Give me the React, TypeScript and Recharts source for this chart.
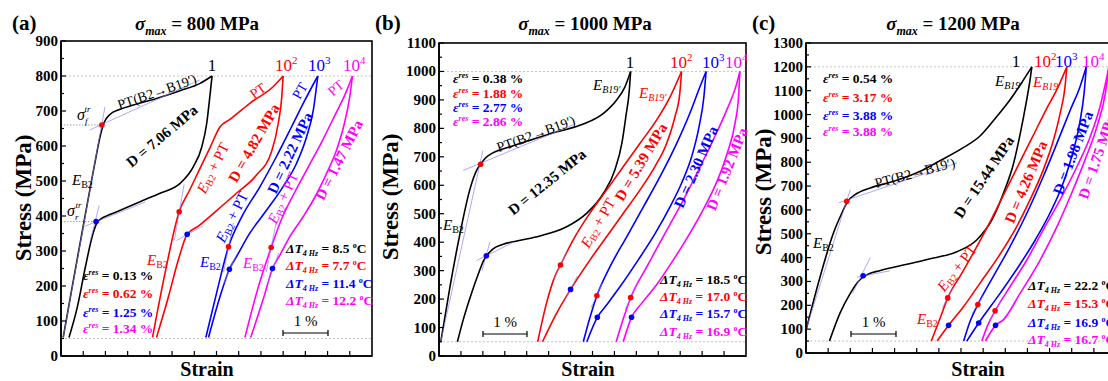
import { ComposedChart, Line, Scatter, XAxis, YAxis, ReferenceLine } from "recharts"

type Pt = [number, number]

const FONT = "'Times New Roman', 'Liberation Serif', serif"
const BLACK = "#000000"
const RED = "#ff0000"
const BLUE = "#0000ff"
const MAGENTA = "#ff00ff"
const TANGENT = "#8c7cf2"
const GUIDE = "#c4c4c4"
const colors = [BLACK, RED, BLUE, MAGENTA]

// cycle labels (base + exponent)
const cycleBase = ["1", "10", "10", "10"]
const cycleExp = ["", "2", "3", "4"]

// ---------- (a) sigma_max = 800 MPa ----------
const aBlackLoad: Pt[] = [[0.05, 53], [0.24, 189], [0.47, 350], [0.67, 489], [0.79, 570], [0.88, 627], [0.97, 667], [1.1, 690], [1.33, 705], [1.63, 717], [2.15, 736], [2.68, 758], [3.13, 779], [3.4, 800]]
const aBlackUnload: Pt[] = [[3.4, 800], [3.35, 741], [3.28, 665], [3.17, 598], [2.98, 541], [2.68, 493], [2.23, 465], [1.78, 441], [1.4, 420], [1.1, 404], [0.9, 392], [0.8, 378], [0.71, 345], [0.55, 255], [0.37, 141], [0.18, 53]]
const aRedLoad: Pt[] = [[2.06, 53], [2.34, 236], [2.66, 412], [2.9, 475], [3.14, 539], [3.36, 597], [3.58, 655], [3.8, 676], [4.25, 722], [4.78, 770], [5.0, 800]]
const aRedUnload: Pt[] = [[5.0, 800], [4.97, 741], [4.89, 665], [4.74, 584], [4.4, 517], [3.95, 465], [3.47, 412], [3.09, 371], [2.84, 348], [2.64, 274], [2.42, 170], [2.15, 53]]
const aBlueLoad: Pt[] = [[3.26, 53], [3.5, 179], [3.77, 312], [4.07, 398], [4.48, 484], [4.85, 570], [5.19, 655], [5.49, 731], [5.78, 800]]
const aBlueUnload: Pt[] = [[5.78, 800], [5.68, 703], [5.53, 627], [5.3, 550], [5.0, 484], [4.63, 417], [4.25, 351], [3.95, 284], [3.79, 248], [3.58, 170], [3.32, 53]]
const aMagLoad: Pt[] = [[4.14, 53], [4.4, 179], [4.73, 310], [4.97, 393], [5.27, 470], [5.57, 541], [5.87, 612], [6.17, 689], [6.39, 746], [6.56, 800]]
const aMagUnload: Pt[] = [[6.56, 800], [6.5, 741], [6.37, 660], [6.19, 584], [5.96, 517], [5.72, 455], [5.45, 398], [5.15, 341], [4.93, 289], [4.76, 250], [4.57, 170], [4.27, 53]]
const aRedDots: Pt[] = [[0.92, 660], [2.66, 412], [3.77, 312], [4.73, 310]]
const aBlueDots: Pt[] = [[0.79, 384], [2.84, 348], [3.79, 248], [4.76, 250]]
const aTangents: Pt[][] = [
  [[0.05, 53], [0.99, 712]], [[0.65, 646], [3.13, 789]], [[0.52, 370], [1.9, 440]], [[0.66, 330], [0.86, 430]],
  [[2.55, 330], [2.77, 490]], [[2.6, 330], [3.2, 372]], [[3.66, 240], [3.88, 380]], [[3.65, 205], [3.95, 290]],
  [[4.62, 240], [4.84, 380]], [[4.65, 205], [4.9, 295]],
]
const aGuides: Pt[][] = [[[0, 660], [0.92, 660]], [[0, 384], [0.79, 384]]]
const aEpsRes = ["0.13", "0.62", "1.25", "1.34"]
const aDeltaT = ["8.5", "7.7", "11.4", "12.2"]
const aDamping = ["7.06", "4.82", "2.22", "1.47"]

// ---------- (b) sigma_max = 1000 MPa ----------
const bBlackLoad: Pt[] = [[0.04, 50], [0.25, 243], [0.48, 431], [0.7, 583], [0.86, 653], [0.95, 674], [1.05, 694], [1.23, 714], [1.61, 735], [2.07, 758], [2.65, 786], [3.29, 815], [3.75, 853], [4.05, 900], [4.24, 946], [4.37, 1000]]
const bBlackUnload: Pt[] = [[4.37, 1000], [4.34, 935], [4.26, 841], [4.17, 748], [4.01, 654], [3.75, 572], [3.37, 502], [2.91, 454], [2.3, 422], [1.8, 405], [1.45, 392], [1.22, 375], [1.1, 355], [1.0, 330], [0.93, 302], [0.74, 220], [0.55, 126], [0.42, 50]]
const bRedLoad: Pt[] = [[2.25, 50], [2.45, 185], [2.64, 279], [2.77, 320], [3.06, 408], [3.44, 502], [3.82, 583], [4.2, 665], [4.58, 747], [4.96, 829], [5.27, 911], [5.53, 1000]]
const bRedUnload: Pt[] = [[5.53, 1000], [5.49, 922], [5.38, 841], [5.19, 747], [4.92, 665], [4.58, 583], [4.2, 501], [3.82, 419], [3.44, 337], [3.0, 234], [2.68, 150], [2.36, 50]]
const bBlueLoad: Pt[] = [[3.29, 50], [3.45, 140], [3.6, 212], [3.9, 314], [4.28, 419], [4.66, 524], [5.04, 630], [5.42, 747], [5.72, 853], [5.95, 946], [6.09, 1000]]
const bBlueUnload: Pt[] = [[6.09, 1000], [6.04, 911], [5.93, 806], [5.76, 700], [5.53, 607], [5.27, 525], [4.93, 431], [4.54, 337], [4.13, 244], [3.82, 179], [3.61, 136], [3.37, 50]]
const bMagLoad: Pt[] = [[4.04, 50], [4.2, 130], [4.37, 205], [4.74, 314], [5.11, 419], [5.49, 525], [5.88, 642], [6.25, 759], [6.56, 864], [6.79, 958], [6.86, 1000]]
const bMagUnload: Pt[] = [[6.86, 1000], [6.83, 911], [6.75, 818], [6.57, 712], [6.35, 618], [6.06, 525], [5.72, 431], [5.34, 337], [4.93, 244], [4.62, 185], [4.39, 136], [4.2, 50]]
const bRedDots: Pt[] = [[0.95, 674], [2.77, 320], [3.6, 212], [4.37, 205]]
const bBlueDots: Pt[] = [[1.08, 352], [3.0, 234], [3.61, 136], [4.39, 136]]
const bTangents: Pt[][] = [
  [[0.04, 50], [1.0, 722]], [[0.55, 652], [3.1, 815]], [[0.85, 335], [1.7, 400]], [[0.98, 300], [1.16, 400]],
  [[2.62, 270], [2.92, 370]], [[2.85, 190], [3.15, 280]], [[3.47, 170], [3.72, 255]], [[4.25, 165], [4.5, 245]],
]
const bEpsRes = ["0.38", "1.88", "2.77", "2.86"]
const bDeltaT = ["18.5", "17.0", "15.7", "16.9"]
const bDamping = ["12.35", "5.39", "2.30", "1.92"]

// ---------- (c) sigma_max = 1200 MPa ----------
const cBlackLoad: Pt[] = [[0.0, 95], [0.32, 321], [0.62, 503], [0.81, 587], [0.94, 636], [1.11, 664], [1.45, 692], [1.98, 720], [2.58, 762], [2.96, 800], [3.56, 862], [3.93, 910], [4.3, 990], [4.6, 1060], [4.84, 1125], [5.1, 1200]]
const cBlackUnload: Pt[] = [[5.1, 1200], [5.06, 1146], [4.97, 1048], [4.84, 922], [4.69, 797], [4.46, 671], [4.2, 559], [3.86, 475], [3.41, 425], [2.88, 398], [2.28, 372], [1.68, 346], [1.4, 330], [1.18, 300], [1.0, 250], [0.77, 168], [0.53, 50]]
const cRedLoad: Pt[] = [[2.83, 50], [3.03, 147], [3.2, 231], [3.52, 335], [3.86, 447], [4.2, 566], [4.52, 685], [4.82, 797], [5.12, 908], [5.42, 1020], [5.68, 1111], [5.89, 1200]]
const cRedUnload: Pt[] = [[5.89, 1200], [5.85, 1118], [5.74, 1006], [5.59, 894], [5.36, 769], [5.06, 643], [4.72, 517], [4.35, 405], [3.93, 293], [3.56, 195], [3.22, 116], [2.96, 50]]
const cBlueLoad: Pt[] = [[3.56, 50], [3.7, 130], [3.88, 203], [4.23, 321], [4.61, 447], [4.99, 587], [5.36, 741], [5.67, 881], [5.97, 1020], [6.19, 1118], [6.33, 1200]]
const cBlueUnload: Pt[] = [[6.33, 1200], [6.28, 1090], [6.18, 964], [6.0, 824], [5.78, 699], [5.51, 587], [5.18, 475], [4.8, 363], [4.39, 252], [3.9, 126], [3.63, 50]]
const cMagLoad: Pt[] = [[3.97, 50], [4.1, 115], [4.27, 177], [4.61, 279], [4.99, 391], [5.36, 517], [5.74, 643], [6.12, 782], [6.42, 908], [6.64, 1034], [6.78, 1146], [6.84, 1200]]
const cMagUnload: Pt[] = [[6.84, 1200], [6.76, 1090], [6.57, 950], [6.3, 810], [6.0, 671], [5.67, 531], [5.29, 391], [4.84, 252], [4.46, 140], [4.28, 116], [4.05, 50]]
const cRedDots: Pt[] = [[0.92, 636], [3.2, 231], [3.88, 203], [4.27, 177]]
const cBlueDots: Pt[] = [[1.29, 324], [3.22, 116], [3.9, 126], [4.28, 116]]
const cTangents: Pt[][] = [
  [[0.0, 98], [1.0, 685]], [[0.74, 630], [3.41, 797]], [[1.05, 250], [1.45, 400]], [[1.15, 318], [1.9, 345]],
  [[3.08, 190], [3.33, 275]], [[3.75, 165], [4.0, 240]], [[4.15, 140], [4.4, 215]],
]
const cEpsRes = ["0.54", "3.17", "3.88", "3.88"]
const cDeltaT = ["22.2", "15.3", "16.9", "16.7"]
const cDamping = ["15.44", "4.26", "1.98", "1.75"]

const xTicks = Array.from({ length: 15 }, (_, i) => i * 0.5)
const rows = (pts: Pt[]) => pts.map(([x, y]) => ({ x, y }))

const Y_W = 45
const M_TOP = 12
const M_RIGHT = 6
const X_H = 20

function XTick(props: any) {
  const { x, y, payload } = props
  if (payload.value <= 0 || payload.value >= 7) return <g />
  return <line x1={x} x2={x} y1={y} y2={y - 5} stroke={BLACK} strokeWidth={1.2} />
}

function YTick(props: any) {
  const { x, y, payload } = props
  const major = payload.value % 100 === 0
  return (
    <g>
      <line x1={x} x2={x + (major ? 5 : 3)} y1={y} y2={y} stroke={BLACK} strokeWidth={1.2} />
      {major && (
        <text x={x - 3} y={y} dy={5} textAnchor="end" fontFamily={FONT} fontWeight="bold" fontSize={15} fill={BLACK}>
          {payload.value}
        </text>
      )}
    </g>
  )
}

const dotShape = (fill: string) => (p: any) => <circle cx={p.cx} cy={p.cy} r={2.8} fill={fill} />

interface Geo { left: number; top: number; w: number; h: number; yMax: number; peak: number }

interface PanelProps {
  geo: Geo
  loops: Pt[][]
  redDots: Pt[]
  blueDots: Pt[]
  tangents: Pt[][]
  guides: Pt[][]
}

function Panel({ geo, loops, redDots, blueDots, tangents, guides }: PanelProps) {
  const yTicks = Array.from({ length: geo.yMax / 50 + 1 }, (_, i) => i * 50)
  return (
    <div style={{ position: "absolute", left: geo.left - Y_W, top: geo.top - M_TOP }}>
      <ComposedChart
        width={Y_W + geo.w + M_RIGHT}
        height={M_TOP + geo.h + X_H}
        margin={{ top: M_TOP, right: M_RIGHT, bottom: 0, left: 0 }}
      >
        <XAxis type="number" dataKey="x" domain={[0, 7]} ticks={xTicks} interval={0} height={X_H}
          tickSize={0} tickMargin={0} tickLine={false} tick={XTick} allowDataOverflow
          axisLine={{ stroke: BLACK, strokeWidth: 1.6 }} />
        <YAxis type="number" dataKey="y" domain={[0, geo.yMax]} ticks={yTicks} interval={0} width={Y_W}
          tickSize={0} tickMargin={0} tickLine={false} tick={YTick} allowDataOverflow
          axisLine={{ stroke: BLACK, strokeWidth: 1.6 }} />
        <ReferenceLine y={geo.peak} stroke={GUIDE} strokeDasharray="2 2" strokeWidth={1} />
        <ReferenceLine y={50} stroke={GUIDE} strokeDasharray="2 2" strokeWidth={1} />
        {guides.map((g, i) => (
          <ReferenceLine key={`g${i}`} segment={[{ x: g[0][0], y: g[0][1] }, { x: g[1][0], y: g[1][1] }]}
            stroke="#888" strokeDasharray="1.5 1.5" strokeWidth={0.8} />
        ))}
        {loops.map((pts, i) => (
          <Line key={`l${i}`} data={rows(pts)} dataKey="y" type="monotone" stroke={colors[Math.floor(i / 2)]}
            strokeWidth={1.6} dot={false} isAnimationActive={false} />
        ))}
        {tangents.map((t, i) => (
          <Line key={`t${i}`} data={rows(t)} dataKey="y" type="linear" stroke={TANGENT} strokeWidth={0.8}
            strokeOpacity={0.85} dot={false} isAnimationActive={false} />
        ))}
        <Scatter data={rows(redDots)} shape={dotShape(RED)} isAnimationActive={false} />
        <Scatter data={rows(blueDots)} shape={dotShape(BLUE)} isAnimationActive={false} />
      </ComposedChart>
    </div>
  )
}

const geoA: Geo = { left: 61, top: 41, w: 311, h: 315, yMax: 900, peak: 800 }
const geoB: Geo = { left: 439, top: 43, w: 307, h: 313, yMax: 1100, peak: 1000 }
const geoC: Geo = { left: 806, top: 43, w: 310, h: 310, yMax: 1300, peak: 1200 }

function Rot({ x, y, a, color = BLACK, bold = false, size = 14, children }: any) {
  return (
    <text x={x} y={y} transform={`rotate(${a} ${x} ${y})`} textAnchor="middle" dominantBaseline="central"
      fill={color} fontSize={size} fontWeight={bold ? "bold" : "normal"} fontFamily={FONT}>
      {children}
    </text>
  )
}

function ESub({ x, y, color = BLACK, sub = "B2", italicSub = false }: any) {
  return (
    <text x={x} y={y} fill={color} fontSize={15} fontFamily={FONT}>
      <tspan fontStyle="italic">E</tspan>
      <tspan fontSize={10} dy={3} fontStyle={italicSub ? "italic" : "normal"}>{sub}</tspan>
    </text>
  )
}

const EPlusPT = () => (
  <>
    <tspan fontStyle="italic">E</tspan>
    <tspan fontSize={10} dy={3}>B2</tspan>
    <tspan dy={-3}> + PT</tspan>
  </>
)

function Title({ x, label, value }: any) {
  return (
    <>
      <text x={x[0]} y={30} fontSize={21} fontWeight="bold" fontFamily={FONT}>{label}</text>
      <text x={x[1]} y={30} textAnchor="middle" fontSize={19} fontWeight="bold" fontFamily={FONT}>
        <tspan fontStyle="italic">σ</tspan>
        <tspan fontSize={12} dy={5} fontStyle="italic">max</tspan>
        <tspan dy={-5}>{` = ${value} MPa`}</tspan>
      </text>
    </>
  )
}

function AxisTitles({ yx, yy, xx }: any) {
  return (
    <>
      <text x={yx} y={yy} transform={`rotate(-90 ${yx} ${yy})`} textAnchor="middle" dominantBaseline="central"
        fontSize={23} fontWeight="bold" fontFamily={FONT}>Stress (MPa)</text>
      <text x={xx} y={376} textAnchor="middle" fontSize={20} fontWeight="bold" fontFamily={FONT}>Strain</text>
    </>
  )
}

function Cycles({ xs, y }: any) {
  return (
    <>
      {xs.map((x: number, i: number) => (
        <text key={i} x={x} y={y} fill={colors[i]} fontSize={17} fontFamily={FONT} textAnchor={i === 0 ? "middle" : "start"}>
          {cycleBase[i]}
          {cycleExp[i] && <tspan fontSize={11} dy={-7}>{cycleExp[i]}</tspan>}
        </text>
      ))}
    </>
  )
}

function EpsList({ x, ys, values }: any) {
  return (
    <>
      {values.map((v: string, i: number) => (
        <text key={i} x={x} y={ys[i]} fill={colors[i]} fontSize={13.5} fontWeight="bold" fontFamily={FONT}>
          <tspan fontStyle="italic">ε</tspan>
          <tspan fontSize={8} dy={-5} fontStyle="italic">res</tspan>
          <tspan dy={5}>{` = ${v} %`}</tspan>
        </text>
      ))}
    </>
  )
}

function DeltaList({ x, ys, values }: any) {
  return (
    <>
      {values.map((v: string, i: number) => (
        <text key={i} x={x} y={ys[i]} fill={colors[i]} fontSize={13.5} fontWeight="bold" fontFamily={FONT}>
          <tspan fontStyle="italic">ΔT</tspan>
          <tspan fontSize={8} dy={3} fontStyle="italic">4 Hz</tspan>
          <tspan dy={-3}>{` = ${v} `}</tspan>
          <tspan fontSize={8} dy={-5}>o</tspan>
          <tspan dy={5}>C</tspan>
        </text>
      ))}
    </>
  )
}

function ScaleBar({ x1, x2, y }: any) {
  return (
    <>
      <line x1={x1} x2={x2} y1={y} y2={y} stroke={BLACK} strokeWidth={1.2} />
      <line x1={x1} x2={x1} y1={y - 3} y2={y + 3} stroke={BLACK} strokeWidth={1.2} />
      <line x1={x2} x2={x2} y1={y - 3} y2={y + 3} stroke={BLACK} strokeWidth={1.2} />
      <text x={(x1 + x2) / 2} y={y - 7} textAnchor="middle" fontSize={15} fontFamily={FONT}>1 %</text>
    </>
  )
}

const Frame = ({ g }: { g: Geo }) => (
  <rect x={g.left} y={g.top} width={g.w} height={g.h} fill="none" stroke={BLACK} strokeWidth={1.6} />
)

const D = ({ v }: { v: string }) => <>{`D = ${v} MPa`}</>

function Annotations() {
  return (
    <svg width={1108} height={381} style={{ position: "absolute", left: 0, top: 0, pointerEvents: "none" }}>
      <Frame g={geoA} />
      <Frame g={geoB} />
      <Frame g={geoC} />

      {/* (a) */}
      <Title x={[12, 197]} label="(a)" value="800" />
      <AxisTitles yx={23} yy={198} xx={207} />
      <Cycles xs={[212, 275, 308, 343]} y={71} />
      <Rot x={157} y={92} a={-19}>PT(B2→B19′)</Rot>
      <Rot x={162} y={136} a={-40} bold size={15}><D v={aDamping[0]} /></Rot>
      <Rot x={213} y={168} a={-63} color={RED} size={15}><EPlusPT /></Rot>
      <Rot x={254} y={143} a={-60} color={RED} bold size={15}><D v={aDamping[1]} /></Rot>
      <Rot x={258} y={91} a={-35} color={RED}>PT</Rot>
      <Rot x={232} y={217} a={-63} color={BLUE} size={15}><EPlusPT /></Rot>
      <Rot x={290} y={153} a={-65} color={BLUE} bold size={15}><D v={aDamping[2]} /></Rot>
      <Rot x={300} y={91} a={-60} color={BLUE}>PT</Rot>
      <Rot x={283} y={198} a={-66} color={MAGENTA} size={15}><EPlusPT /></Rot>
      <Rot x={339} y={160} a={-63} color={MAGENTA} bold size={15}><D v={aDamping[3]} /></Rot>
      <Rot x={336} y={88} a={-40} color={MAGENTA}>PT</Rot>
      <ESub x={72} y={185} />
      <ESub x={147} y={265} color={RED} />
      <ESub x={200} y={267} color={BLUE} />
      <ESub x={243} y={268} color={MAGENTA} />
      <text x={77} y={120} fontSize={16} fontFamily={FONT}>
        <tspan fontStyle="italic">σ</tspan>
        <tspan fontSize={9} dy={4} fontStyle="italic">f</tspan>
        <tspan fontSize={9} dy={-12} dx={-3} fontStyle="italic">tr</tspan>
      </text>
      <text x={67} y={216} fontSize={16} fontFamily={FONT}>
        <tspan fontStyle="italic">σ</tspan>
        <tspan fontSize={9} dy={4} fontStyle="italic">r</tspan>
        <tspan fontSize={9} dy={-12} dx={-3} fontStyle="italic">tr</tspan>
      </text>
      <EpsList x={83} ys={[280, 298, 317, 333]} values={aEpsRes} />
      <DeltaList x={286} ys={[253, 270, 288, 305]} values={aDeltaT} />
      <ScaleBar x1={283} x2={328} y={333} />

      {/* (b) */}
      <Title x={[375, 585]} label="(b)" value="1000" />
      <AxisTitles yx={390} yy={197} xx={588} />
      <Cycles xs={[630, 670, 702, 725]} y={68} />
      <EpsList x={453} ys={[83, 98, 112, 126]} values={bEpsRes} />
      <ESub x={593} y={90} sub="B19′" italicSub />
      <ESub x={639} y={98} sub="B19′" italicSub color={RED} />
      <ESub x={443} y={230} />
      <Rot x={536} y={134} a={-20}>PT(B2→B19′)</Rot>
      <Rot x={547} y={182} a={-39} bold size={15}><D v={bDamping[0]} /></Rot>
      <Rot x={598} y={223} a={-60} color={RED} size={15}><EPlusPT /></Rot>
      <Rot x={641} y={162} a={-59} color={RED} bold size={15}><D v={bDamping[1]} /></Rot>
      <Rot x={696} y={167} a={-66} color={BLUE} bold size={15}><D v={bDamping[2]} /></Rot>
      <Rot x={727} y={169} a={-68} color={MAGENTA} bold size={15}><D v={bDamping[3]} /></Rot>
      <DeltaList x={660} ys={[284, 301, 318, 336]} values={bDeltaT} />
      <ScaleBar x1={483} x2={527} y={334} />

      {/* (c) */}
      <Title x={[752, 953]} label="(c)" value="1200" />
      <AxisTitles yx={763} yy={192} xx={978} />
      <Cycles xs={[1016, 1034, 1055, 1082]} y={67} />
      <EpsList x={823} ys={[83, 102, 120, 136]} values={cEpsRes} />
      <ESub x={995} y={86} sub="B19′" italicSub />
      <ESub x={1033} y={87} sub="B19′" italicSub color={RED} />
      <ESub x={813} y={248} />
      <ESub x={917} y={324} color={RED} />
      <Rot x={915} y={173} a={-15}>PT(B2→B19′)</Rot>
      <Rot x={984} y={177} a={-56} bold size={15}><D v={cDamping[0]} /></Rot>
      <Rot x={957} y={268} a={-52} color={RED} size={15}><EPlusPT /></Rot>
      <Rot x={1026} y={182} a={-67} color={RED} bold size={15}><D v={cDamping[1]} /></Rot>
      <Rot x={1073} y={153} a={-69} color={BLUE} bold size={15}><D v={cDamping[2]} /></Rot>
      <Rot x={1097} y={157} a={-71} color={MAGENTA} bold size={15}><D v={cDamping[3]} /></Rot>
      <DeltaList x={1028} ys={[290, 308, 327, 344]} values={cDeltaT} />
      <ScaleBar x1={851} x2={896} y={334} />
    </svg>
  )
}

export default function App() {
  return (
    <div style={{ position: "absolute", left: 0, top: 0, width: 1108, height: 381, overflow: "hidden", background: "#fff", fontFamily: FONT }}>
      <Panel geo={geoA} loops={[aBlackLoad, aBlackUnload, aRedLoad, aRedUnload, aBlueLoad, aBlueUnload, aMagLoad, aMagUnload]}
        redDots={aRedDots} blueDots={aBlueDots} tangents={aTangents} guides={aGuides} />
      <Panel geo={geoB} loops={[bBlackLoad, bBlackUnload, bRedLoad, bRedUnload, bBlueLoad, bBlueUnload, bMagLoad, bMagUnload]}
        redDots={bRedDots} blueDots={bBlueDots} tangents={bTangents} guides={[]} />
      <Panel geo={geoC} loops={[cBlackLoad, cBlackUnload, cRedLoad, cRedUnload, cBlueLoad, cBlueUnload, cMagLoad, cMagUnload]}
        redDots={cRedDots} blueDots={cBlueDots} tangents={cTangents} guides={[]} />
      <Annotations />
    </div>
  )
}
